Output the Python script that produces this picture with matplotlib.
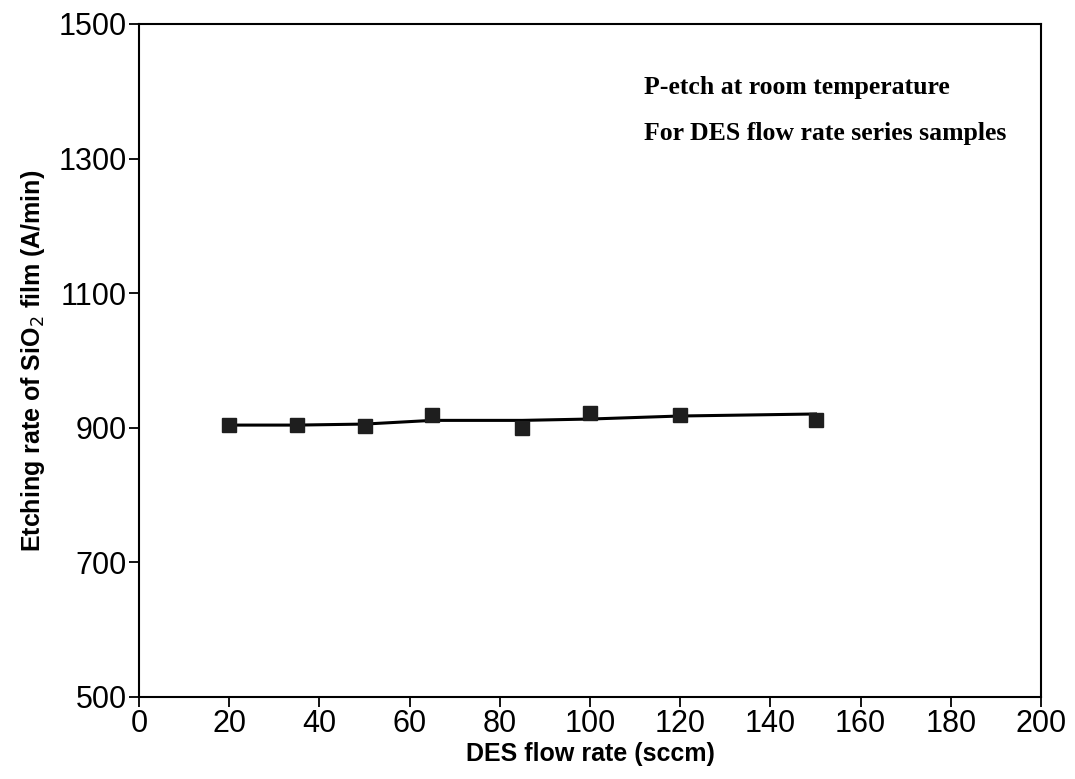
import matplotlib
matplotlib.use("Agg")
import matplotlib.pyplot as plt

# Data
flow_rate = [20, 35, 50, 65, 85, 100, 120, 150]
etch_rate = [904, 904, 903, 919, 900, 922, 919, 912]
trend_rate = [904, 904, 905.5, 911, 911, 913, 917.5, 920.5]

x_ticks = [0, 20, 40, 60, 80, 100, 120, 140, 160, 180, 200]
y_ticks = [500, 700, 900, 1100, 1300, 1500]

fig = plt.figure(figsize=(10.75, 7.79), dpi=100)
ax = fig.add_axes([0.1293, 0.1053, 0.8391, 0.8639])

ax.plot(flow_rate, trend_rate, color="black", lw=2.2, zorder=2)
ax.plot(flow_rate, etch_rate, ls="none", marker="s", ms=10.5,
        mfc="#1e1e1e", mec="#1e1e1e", zorder=3)

ax.set_xlim(0, 200)
ax.set_ylim(500, 1500)
ax.set_xticks(x_ticks)
ax.set_yticks(y_ticks)
ax.set_xticklabels([str(v) for v in x_ticks], fontsize=22, family="Liberation Sans")
ax.set_yticklabels([str(v) for v in y_ticks], fontsize=22, family="Liberation Sans")
ax.tick_params(direction="out", length=7, width=1.3, pad=2, colors="black")

for s in ax.spines.values():
    s.set_linewidth(1.5)
    s.set_color("black")

ax.set_xlabel("DES flow rate (sccm)", fontsize=18, fontweight="bold",
              family="Liberation Sans", labelpad=2)
ax.set_ylabel("Etching rate of SiO$_2$ film (A/min)", fontsize=18, fontweight="bold",
              family="Liberation Sans", labelpad=8)

ax.text(112, 1405, "P-etch at room temperature", fontsize=18.5, fontweight="bold",
        family="Liberation Serif", va="center", ha="left")
ax.text(112, 1338, "For DES flow rate series samples", fontsize=18.5, fontweight="bold",
        family="Liberation Serif", va="center", ha="left")

fig.savefig("out.png", dpi=100)
